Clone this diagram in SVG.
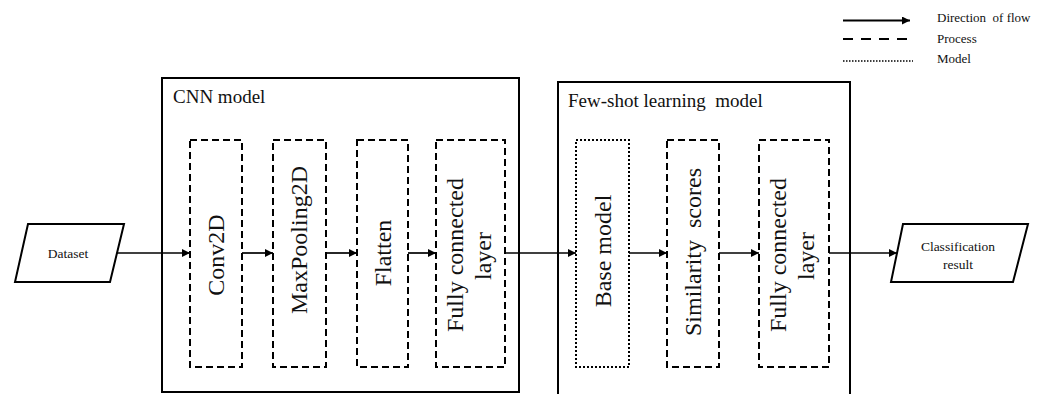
<svg xmlns="http://www.w3.org/2000/svg" width="1046" height="394" viewBox="0 0 1046 394">
<defs>
<marker id="ah" viewBox="0 0 10 10" refX="10" refY="5" markerWidth="9" markerHeight="8" markerUnits="userSpaceOnUse" orient="auto">
<path d="M0,0 L10,5 L0,10 z" fill="#000"/>
</marker>
</defs>
<style>
text{font-family:"Liberation Serif","Times New Roman",serif;fill:#111;white-space:pre}
.outer{fill:none;stroke:#000;stroke-width:2}
.proc{fill:#fff;stroke:#000;stroke-width:2;stroke-dasharray:7 4}
.model{fill:#fff;stroke:#000;stroke-width:2;stroke-dasharray:2 2}
.io{fill:#fff;stroke:#000;stroke-width:2}
.conn line{stroke:#000;stroke-width:1.7;marker-end:url(#ah)}
.title{font-size:19px}
.vt{font-size:24px;text-anchor:middle}
.small{font-size:13.5px;text-anchor:middle}
.leg{font-size:13px}
</style>
<rect width="1046" height="394" fill="#fff"/>

<g id="legend">
<line x1="843" y1="20.5" x2="910" y2="20.5" stroke="#000" stroke-width="2.2" marker-end="url(#ah)"/>
<line x1="843" y1="39" x2="913" y2="39" stroke="#000" stroke-width="2.2" stroke-dasharray="10 8"/>
<line x1="843" y1="61" x2="913" y2="61" stroke="#000" stroke-width="1.6" stroke-dasharray="1.5 1.5"/>
<text class="leg" x="937" y="22">Direction  of flow</text>
<text class="leg" x="937" y="43">Process</text>
<text class="leg" x="937" y="63">Model</text>
</g>

<g id="cnn-model">
<rect class="outer" x="162" y="78" width="357" height="314"/>
<text class="title" x="173" y="103">CNN model</text>
</g>
<g id="fewshot-model">
<rect class="outer" x="558" y="82" width="292" height="330"/>
<text class="title" x="568" y="107">Few-shot learning  model</text>
</g>

<g id="connectors" class="conn">
<line x1="117" y1="253" x2="190" y2="253"/>
<line x1="242" y1="253" x2="273" y2="253"/>
<line x1="326" y1="253" x2="357" y2="253"/>
<line x1="408" y1="253" x2="436" y2="253"/>
<line x1="505" y1="253" x2="576" y2="253"/>
<line x1="629" y1="253" x2="667" y2="253"/>
<line x1="719" y1="253" x2="759" y2="253"/>
<line x1="829" y1="253" x2="897" y2="253"/>
</g>

<g id="dataset">
<polygon class="io" points="28,224 124,224 110,282 15,282"/>
<text class="small" x="68" y="258">Dataset</text>
</g>

<g id="conv2d">
<rect class="proc" x="190" y="140" width="52" height="227"/>
<text class="vt" transform="translate(224,255) rotate(-90)">Conv2D</text>
</g>
<g id="maxpooling2d">
<rect class="proc" x="273" y="140" width="53" height="227"/>
<text class="vt" transform="translate(307,240) rotate(-90)">MaxPooling2D</text>
</g>
<g id="flatten">
<rect class="proc" x="357" y="140" width="51" height="227"/>
<text class="vt" transform="translate(391,253) rotate(-90)">Flatten</text>
</g>
<g id="fc1">
<rect class="proc" x="436" y="140" width="69" height="227"/>
<text class="vt" transform="translate(463,255) rotate(-90)">Fully connected</text>
<text class="vt" transform="translate(491,256) rotate(-90)">layer</text>
</g>

<g id="base-model">
<rect class="model" x="576" y="140" width="53" height="227"/>
<text class="vt" transform="translate(611,251) rotate(-90)">Base model</text>
</g>
<g id="similarity">
<rect class="proc" x="667" y="140" width="52" height="227"/>
<text class="vt" transform="translate(701,252) rotate(-90)">Similarity  scores</text>
</g>
<g id="fc2">
<rect class="proc" x="759" y="140" width="70" height="227"/>
<text class="vt" transform="translate(786,255) rotate(-90)">Fully connected</text>
<text class="vt" transform="translate(814,256) rotate(-90)">layer</text>
</g>

<g id="classification-result">
<polygon class="io" points="903,224 1028,224 1013,282 891,282"/>
<text class="small" x="958" y="251">Classification</text>
<text class="small" x="958" y="269">result</text>
</g>
</svg>
